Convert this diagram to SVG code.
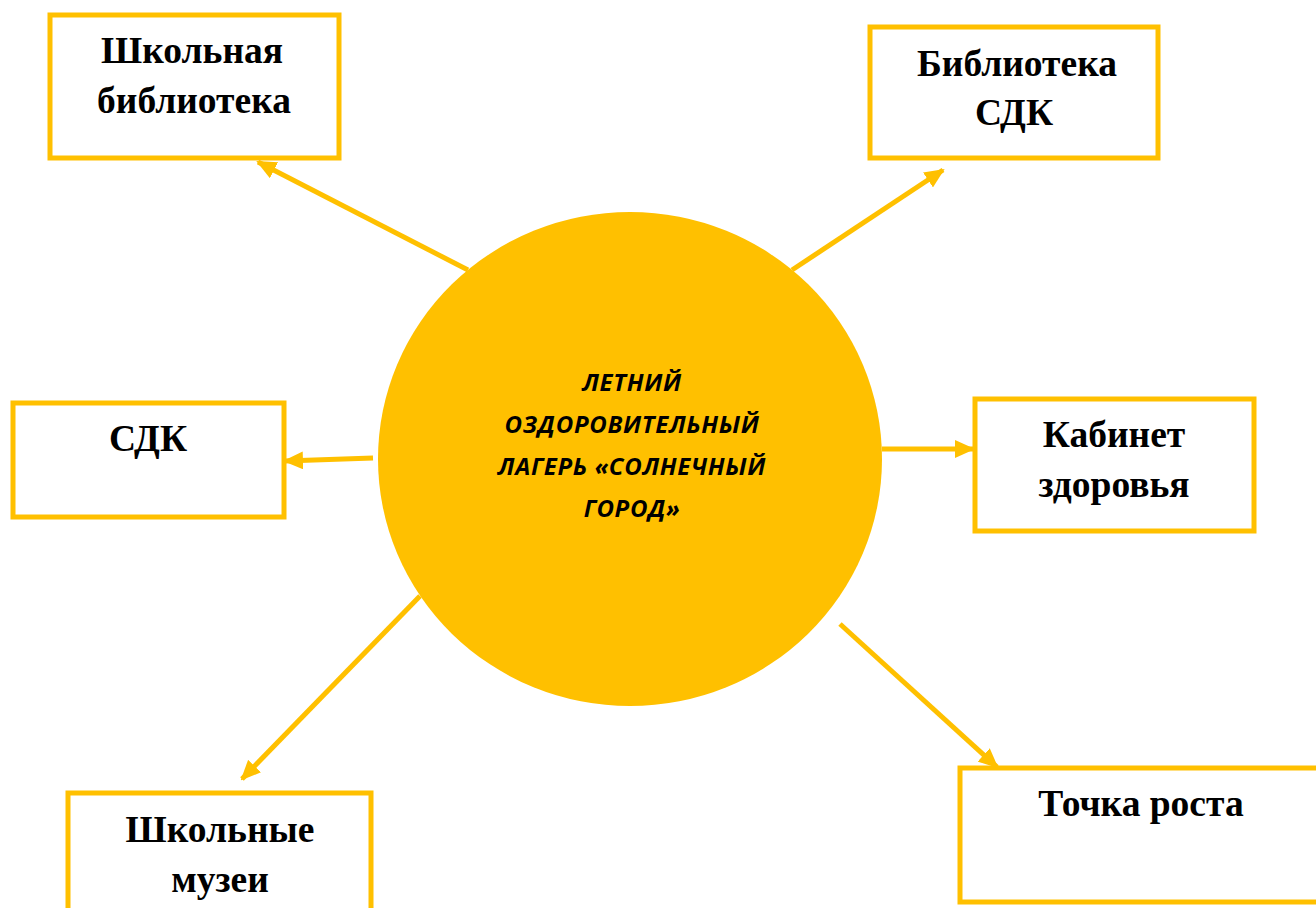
<svg xmlns="http://www.w3.org/2000/svg" width="1316" height="908" viewBox="0 0 1316 908">
<style>
.box{fill:#fff;stroke:#FFC000;stroke-width:5}
.lbl{font-family:"Liberation Serif","Times New Roman",serif;font-weight:bold;font-size:37.5px;fill:#000;text-anchor:middle}
.c{font-family:"Open Sans","Liberation Sans",sans-serif;font-weight:bold;font-style:italic;font-size:24px;letter-spacing:0.7px;fill:#000;text-anchor:middle}
.con{stroke:#FFC000;stroke-width:5;fill:none;marker-end:url(#ah)}
</style>
<defs>
<marker id="ah" markerUnits="userSpaceOnUse" markerWidth="20" markerHeight="18" viewBox="0 0 20 18" refX="18" refY="9" orient="auto">
<path d="M0,0 L20,9 L0,18 Z" fill="#FFC000"/>
</marker>
</defs>
<rect width="1316" height="908" fill="#fff"/>
<g id="connectors">
<line class="con" x1="468" y1="270" x2="258" y2="162"/>
<line class="con" x1="792" y1="270" x2="943" y2="170"/>
<line class="con" x1="373" y1="458" x2="285" y2="461"/>
<line class="con" x1="882" y1="449" x2="973" y2="449"/>
<line class="con" x1="420" y1="596" x2="242" y2="779"/>
<line class="con" x1="840" y1="624" x2="997" y2="767"/>
</g>
<g id="center">
<ellipse cx="630" cy="459" rx="252" ry="247" fill="#FFC000"/>
<text class="c" x="632" y="391">ЛЕТНИЙ</text>
<text class="c" x="632" y="433">ОЗДОРОВИТЕЛЬНЫЙ</text>
<text class="c" x="632" y="475">ЛАГЕРЬ «СОЛНЕЧНЫЙ</text>
<text class="c" x="632" y="517">ГОРОД»</text>
</g>
<g id="n1">
<rect class="box" x="50" y="15" width="289" height="143"/>
<text class="lbl" x="192" y="63">Школьная</text>
<text class="lbl" x="194" y="113">библиотека</text>
</g>
<g id="n2">
<rect class="box" x="870" y="27" width="288" height="131"/>
<text class="lbl" x="1017" y="76">Библиотека</text>
<text class="lbl" x="1014" y="125">СДК</text>
</g>
<g id="n3">
<rect class="box" x="13" y="403" width="271" height="114"/>
<text class="lbl" x="148" y="451">СДК</text>
</g>
<g id="n4">
<rect class="box" x="975" y="399" width="279" height="132"/>
<text class="lbl" x="1114" y="447">Кабинет</text>
<text class="lbl" x="1114" y="497">здоровья</text>
</g>
<g id="n5">
<rect class="box" x="68" y="793" width="303" height="130"/>
<text class="lbl" x="220" y="842">Школьные</text>
<text class="lbl" x="220" y="892">музеи</text>
</g>
<g id="n6">
<rect class="box" x="960" y="768" width="370" height="134"/>
<text class="lbl" x="1141" y="816">Точка роста</text>
</g>
</svg>
